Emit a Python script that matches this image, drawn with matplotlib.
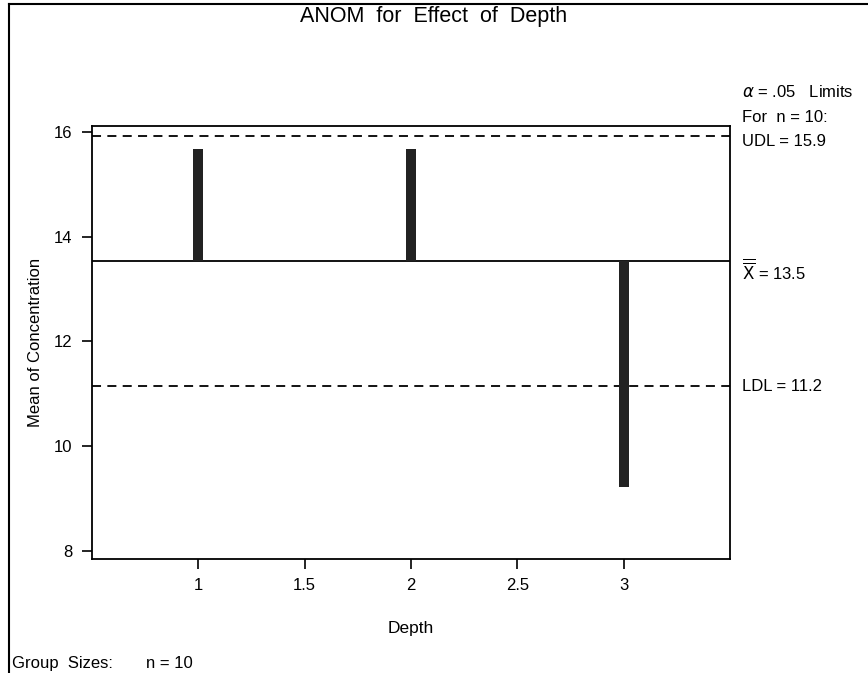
import matplotlib
matplotlib.use("Agg")
import matplotlib.pyplot as plt
from matplotlib.lines import Line2D

plt.rcParams['font.family'] = ['Liberation Sans', 'DejaVu Sans']

depth = [1, 2, 3]
means = [15.68, 15.68, 9.22]
center = 13.53
udl = 15.92
ldl = 11.15
xticks = [1, 1.5, 2, 2.5, 3]
xticklabels = ['1', '1.5', '2', '2.5', '3']
yticks = [8, 10, 12, 14, 16]

W, H = 868, 673
fig = plt.figure(figsize=(W / 100, H / 100), dpi=100)
ax = fig.add_axes([92 / W, 1 - 559 / H, (730 - 92) / W, (559 - 126) / H])

ax.set_xlim(0.5, 3.5)
ax.set_ylim(7.85, 16.11)

bw = 0.048
for x, m in zip(depth, means):
    ax.bar(x, m - center, bottom=center, width=bw, color='#222222', edgecolor='none', zorder=3)

ax.axhline(center, color='black', lw=1.3, zorder=2)
ax.axhline(udl, color='black', lw=1.3, ls=(0, (5, 3.5)), zorder=2)
ax.axhline(ldl, color='black', lw=1.3, ls=(0, (5, 3.5)), zorder=2)

ax.set_xticks(xticks)
ax.set_xticklabels(xticklabels)
ax.set_yticks(yticks)
ax.tick_params(direction='out', length=7, width=1.2, labelsize=12)
ax.tick_params(axis='x', pad=7)
ax.tick_params(axis='y', pad=7)
for s in ax.spines.values():
    s.set_linewidth(1.3)

ax.set_xlabel('Depth', fontsize=12.5, labelpad=20)
ax.set_ylabel('Mean of Concentration', fontsize=12, labelpad=0)
ax.yaxis.set_label_coords((43 - 92) / (730 - 92), 0.5)

fig.text(434 / W, 1 - 22 / H, 'ANOM  for  Effect  of  Depth', ha='center', va='baseline', fontsize=15.5)

tx = 742 / W
fs = 12
fig.text(tx, 1 - 92 / H, r'$\alpha$' + ' = .05   Limits', ha='left', va='center', fontsize=fs)
fig.text(tx, 1 - 117 / H, 'For  n = 10:', ha='left', va='center', fontsize=fs)
fig.text(tx, 1 - 142 / H, 'UDL = ' + f'{udl:.1f}', ha='left', va='center', fontsize=fs)
fig.text(tx, 1 - 270 / H, r'$\overline{\overline{\mathrm{X}}}$' + ' = ' + f'{center:.1f}', ha='left', va='center', fontsize=fs)
fig.text(tx, 1 - 387 / H, 'LDL = ' + f'{ldl:.1f}', ha='left', va='center', fontsize=fs)

fig.text(12 / W, 1 - 668 / H, 'Group  Sizes:', ha='left', va='baseline', fontsize=fs)
fig.text(146 / W, 1 - 668 / H, 'n = 10', ha='left', va='baseline', fontsize=fs)

# outer frame (left and top edges)
fig.add_artist(Line2D([8.5 / W, 8.5 / W], [0, 1 - 3.5 / H], color='black', lw=1.5))
fig.add_artist(Line2D([8.5 / W, 1], [1 - 3.5 / H, 1 - 3.5 / H], color='black', lw=1.5))

fig.savefig('out.png', dpi=100)
